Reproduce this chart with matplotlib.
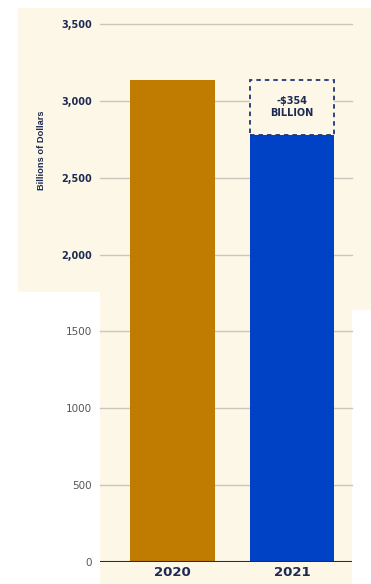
import matplotlib
matplotlib.use("Agg")
import matplotlib.pyplot as plt
from matplotlib.patches import Rectangle

years = ["2020", "2021"]
values = [3135, 2781]
bar_colors = ["#bf7c00", "#0042c6"]
yticks = [0, 500, 1000, 1500, 2000, 2500, 3000, 3500]
ytick_labels = ["0", "500", "1000", "1500", "2,000", "2,500", "3,000", "3,500"]
drop_label = "-$354\nBILLION"

cream = "#fdf7e8"
navy = "#1d2a52"
W, H = 371, 584

fig = plt.figure(figsize=(W / 100, H / 100), dpi=100)
fig.patch.set_facecolor("white")

# cream panels behind the chart (pixel boxes -> figure fractions)
def px_rect(x0, y0, x1, y1):
  return Rectangle((x0 / W, 1 - y1 / H), (x1 - x0) / W, (y1 - y0) / H,
                   transform=fig.transFigure, facecolor=cream, edgecolor="none", zorder=-5)

fig.patches.append(px_rect(18, 8, 371, 292))
fig.patches.append(px_rect(100, 292, 352, 584))
fig.patches.append(px_rect(352, 292, 371, 310))

ax_left, ax_right = 100, 352
ax_top, ax_bot = 24, 562
ax = fig.add_axes([ax_left / W, 1 - ax_bot / H, (ax_right - ax_left) / W, (ax_bot - ax_top) / H])
ax.set_facecolor("none")
ax.set_zorder(2)

w = 0.71
xs = list(range(len(years)))
ax.bar(xs, values, width=w, color=bar_colors, zorder=3)

# dashed box showing the drop
box = Rectangle((xs[1] - w / 2, values[1]), w, values[0] - values[1],
                facecolor=cream, edgecolor="#243577", linestyle=(0, (2.5, 2.2)), linewidth=1.3, zorder=4)
ax.add_patch(box)
ax.text(xs[1], (values[0] + values[1]) / 2, drop_label, ha="center", va="center",
        fontsize=7, fontweight="bold", color=navy, linespacing=1.25, zorder=5)

ax.set_xlim(-0.607, 1.502)
ax.set_ylim(0, 3500)
ax.set_yticks(yticks)
ax.set_yticklabels(ytick_labels)
ax.tick_params(axis="y", length=0, pad=6)
ax.tick_params(axis="x", length=0, pad=3)
for v in yticks[1:]:
  ax.axhline(v, color="#cbc5be", linewidth=1.0, zorder=1, clip_on=False)
ax.axhline(0, color=navy, linewidth=1.5, zorder=5)

for lbl, v in zip(ax.get_yticklabels(), yticks):
  if v >= 2000:
    lbl.set_fontweight("bold")
    lbl.set_color(navy)
    lbl.set_fontsize(7)
  else:
    lbl.set_color("#555555")
    lbl.set_fontsize(7.5)

ax.set_xticks(xs)
ax.set_xticklabels(years, fontsize=9.5, fontweight="bold", color=navy)

for s in ax.spines.values():
  s.set_visible(False)

fig.text(42 / W, 1 - 150 / H, "Billions of Dollars", rotation=90, ha="center", va="center",
         fontsize=6.7, fontweight="bold", color=navy, family="Liberation Sans")

fig.savefig("out.png", dpi=100)
